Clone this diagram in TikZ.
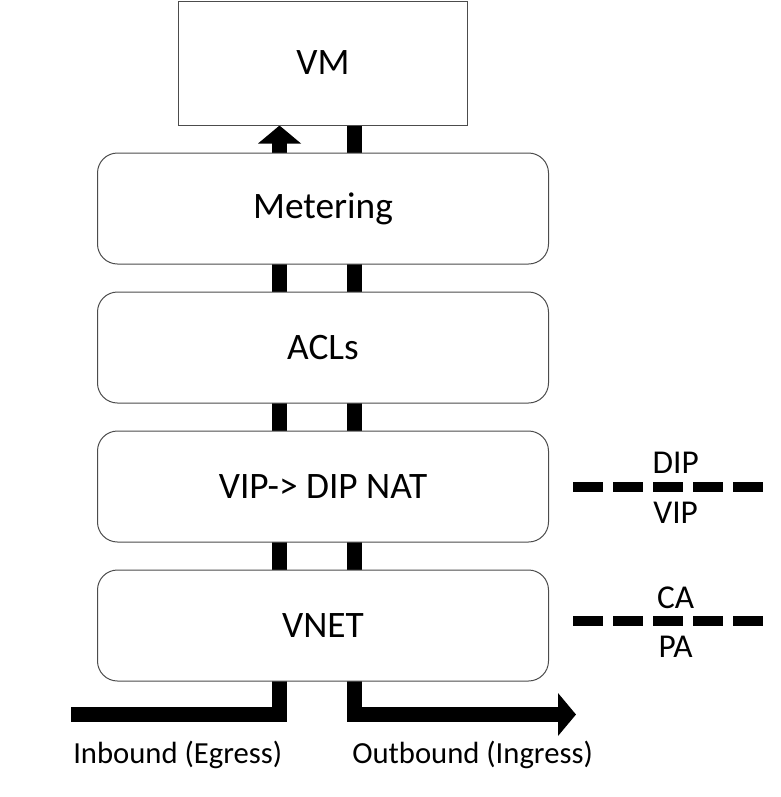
\documentclass[tikz,border=0pt]{standalone}
\usepackage{fontspec}
\setmainfont{Carlito}
\usetikzlibrary{positioning,arrows.meta,backgrounds}

\tikzset{
	layer/.style={draw=black!70, line width=0.75pt, fill=white, rounded corners=15pt, minimum width=338.25pt, minimum height=83.25pt, font=\fontsize{28}{33}\selectfont},
	host/.style={draw=black!70, line width=0.75pt, fill=white, minimum width=216.75pt, minimum height=93pt, font=\fontsize{28}{33}\selectfont},
	flow/.style={line width=11.25pt, -{Triangle[length=13.5pt, width=31.5pt]}},
	split/.style={line width=7.5pt, dash pattern=on 22.5pt off 7.5pt},
	tag/.style={font=\fontsize{23}{28}\selectfont, inner sep=0pt, anchor=base},
	sidetag/.style={tag, font=\fontsize{25}{30}\selectfont, xshift=5pt},
}

\begin{document}
\begin{tikzpicture}[x=0.75pt, y=-0.75pt]
	\useasboundingbox (0,0) rectangle (781,797);
	\node[host] (vm) at (323,63) {VM};
	\node[layer, below=20.25pt of vm] (metering) {Metering};
	\node[layer, below=20.25pt of metering] (acls) {ACLs};
	\node[layer, below=20.25pt of acls] (nat) {VIP-> DIP NAT};
	\node[layer, below=20.25pt of nat] (vnet) {VNET};
	\coordinate (in) at (71,714.5);
	\coordinate (out) at (576,714.5);
	\begin{scope}[on background layer]
		\draw[flow] (in) -| ([xshift=-32.6pt]vm.south);
		\draw[flow] ([xshift=23.6pt]vm.south) |- (out);
	\end{scope}
	\node[tag, anchor=base west] (inlabel) at (73,763) {Inbound (Egress)};
	\node[tag, anchor=base west] (outlabel) at (352,763) {Outbound (Ingress)};
	\draw[split] (573,486.5) -- (765,486.5)
		node[sidetag, midway, yshift=9.75pt] (dip) {DIP}
		node[sidetag, midway, yshift=-27.4pt] (vip) {VIP};
	\draw[split] (573,620.5) -- (765,620.5)
		node[sidetag, midway, yshift=9pt] (ca) {CA}
		node[sidetag, midway, yshift=-27.4pt] (pa) {PA};
\end{tikzpicture}
\end{document}
